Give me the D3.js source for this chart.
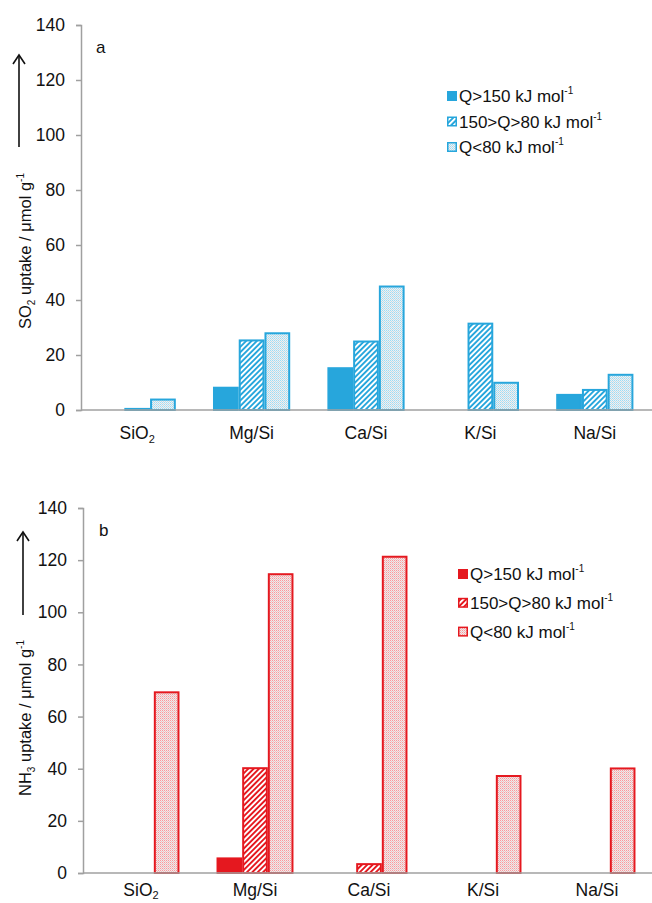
<!DOCTYPE html>
<html>
<head>
<meta charset="utf-8">
<script src="https://cdn.jsdelivr.net/npm/d3@7/dist/d3.min.js"></script>
<style>
  html, body { margin: 0; padding: 0; background: #fff; }
  svg { display: block; font-family: "Liberation Sans", Arial, sans-serif; }
</style>
</head>
<body>
<svg id="chart" width="652" height="903"></svg>
<script>
// ---- data ----
const categories = ["SiO2", "Mg/Si", "Ca/Si", "K/Si", "Na/Si"];
const seriesKeys = ["high", "mid", "low"];
const seriesLabels = ["Q>150 kJ mol", "150>Q>80 kJ mol", "Q<80 kJ mol"];
const so2High = [0, 8.1, 15.2, 0, 5.5];
const so2Mid  = [0.4, 25.3, 24.9, 31.4, 7.3];
const so2Low  = [3.8, 27.9, 44.9, 9.9, 12.8];
const nh3High = [0, 5.6, 0, 0, 0];
const nh3Mid  = [0, 40.2, 3.4, 0, 0];
const nh3Low  = [69.3, 114.6, 121.3, 37.2, 40.1];
const yTicks = [0, 20, 40, 60, 80, 100, 120, 140];
const yMax = 140;

const svg = d3.select("#chart");
const defs = svg.append("defs");

function makePatterns(id, color) {
  const h = defs.append("pattern")
    .attr("id", id + "-hatch")
    .attr("patternUnits", "userSpaceOnUse")
    .attr("width", 3.8).attr("height", 3.8)
    .attr("patternTransform", "rotate(45)");
  h.append("rect").attr("width", 3.8).attr("height", 3.8).attr("fill", "#fff");
  h.append("rect").attr("x", 0).attr("width", 1.9).attr("height", 3.8).attr("fill", color);

  const d = defs.append("pattern")
    .attr("id", id + "-dots")
    .attr("patternUnits", "userSpaceOnUse")
    .attr("width", 2).attr("height", 2);
  d.append("rect").attr("width", 2).attr("height", 2).attr("fill", "#fff");
  d.append("rect").attr("width", 2).attr("height", 2).attr("fill", color).attr("fill-opacity", 0.12);
  d.append("rect").attr("x", 0).attr("y", 0).attr("width", 1).attr("height", 1).attr("fill", color).attr("fill-opacity", 0.35);
  d.append("rect").attr("x", 1).attr("y", 1).attr("width", 1).attr("height", 1).attr("fill", "#999").attr("fill-opacity", 0.3);
}

function catLabel(sel, label, subDy) {
  const m = label.match(/^(.*\D)(\d)$/);
  if (m) {
    sel.append("tspan").text(m[1]);
    sel.append("tspan").attr("font-size", "11px").attr("dy", subDy).text(m[2]);
  } else {
    sel.text(label);
  }
}

function drawPanel(cfg) {
  const { id, color, values, x0, x1, y0, y1, axisX, letter, letterPos,
          gas, labelX, labelY, arrowX, arrowY0, arrowY1,
          legendX, legendY, legendStep } = cfg;
  makePatterns(id, color);
  const fills = { high: color, mid: `url(#${id}-hatch)`, low: `url(#${id}-dots)` };

  const x = d3.scaleBand().domain(categories).range([x0, x1])
    .paddingInner(0.325).paddingOuter(0.1625);
  const xs = d3.scaleBand().domain(seriesKeys).range([0, x.bandwidth()]);
  const y = d3.scaleLinear().domain([0, yMax]).range([y0, y1]);

  const g = svg.append("g");

  // bars
  seriesKeys.forEach((k, si) => {
    const vals = values[si];
    g.append("g").selectAll("rect")
      .data(categories.map((c, i) => ({ c, v: vals[i] })).filter(d => d.v > 0))
      .join("rect")
      .attr("x", d => x(d.c) + xs(k) + 1)
      .attr("width", xs.bandwidth() - 2)
      .attr("y", d => y(d.v))
      .attr("height", d => y(0) - y(d.v))
      .attr("fill", fills[k])
      .attr("stroke", color)
      .attr("stroke-width", 2);
  });

  // y axis
  const ya = g.append("g")
    .attr("transform", `translate(${axisX},0)`)
    .call(d3.axisLeft(y).tickValues(yTicks).tickSize(5).tickPadding(11));
  ya.select(".domain").attr("stroke", "#a0a0a0").attr("stroke-width", 1.5);
  ya.selectAll(".tick line").attr("stroke", "#a0a0a0").attr("stroke-width", 1.5);
  ya.selectAll(".tick text").attr("font-size", "17.5px").attr("fill", "#111")
    .attr("font-family", "Liberation Sans, Arial, sans-serif");

  // x axis
  const xa = g.append("g")
    .attr("transform", `translate(0,${y0})`)
    .call(d3.axisBottom(x).tickSize(0).tickPadding(0).tickFormat(""));
  xa.select(".domain").attr("stroke", "#a0a0a0").attr("stroke-width", 1.5)
    .attr("d", `M${axisX},0H${x1}`);
  xa.selectAll(".tick text").remove();
  xa.selectAll(".tick").append("text")
    .attr("y", cfg.catLabelDy)
    .attr("text-anchor", "middle")
    .attr("fill", "#111")
    .attr("font-size", "17.5px")
    .attr("font-family", "Liberation Sans, Arial, sans-serif")
    .each(function(d) { catLabel(d3.select(this), d, cfg.subDy); });

  // panel letter
  g.append("text").attr("x", letterPos[0]).attr("y", letterPos[1])
    .attr("font-size", "17px").attr("fill", "#111").text(letter);

  // y label
  const yl = g.append("text")
    .attr("transform", `translate(${labelX},${labelY}) rotate(-90)`)
    .attr("text-anchor", "middle")
    .attr("font-size", "16.5px").attr("fill", "#111");
  yl.append("tspan").text(gas[0]);
  yl.append("tspan").attr("font-size", "10px").attr("dy", 4).text(gas[1]);
  yl.append("tspan").attr("dy", -4).text(" uptake / \u03bcmol g");
  yl.append("tspan").attr("font-size", "10px").attr("dy", -7).text("-1");

  // arrow
  g.append("line").attr("x1", arrowX).attr("x2", arrowX)
    .attr("y1", arrowY0).attr("y2", arrowY1)
    .attr("stroke", "#111").attr("stroke-width", 1.6);
  g.append("path")
    .attr("d", `M${arrowX - 6},${arrowY1 + 9}L${arrowX},${arrowY1}L${arrowX + 6},${arrowY1 + 9}`)
    .attr("fill", "none").attr("stroke", "#111").attr("stroke-width", 1.6);

  // legend
  const lg = g.append("g");
  seriesKeys.forEach((k, i) => {
    const ly = legendY + i * legendStep;
    lg.append("rect").attr("x", legendX + 0.75).attr("y", ly - 4.25)
      .attr("width", 8.5).attr("height", 8.5)
      .attr("fill", fills[k]).attr("stroke", color).attr("stroke-width", 1.5);
    const t = lg.append("text").attr("x", legendX + 12).attr("y", ly + 6)
      .attr("font-size", "17px").attr("fill", "#111");
    t.append("tspan").text(seriesLabels[i]);
    t.append("tspan").attr("font-size", "10px").attr("dy", -8).text("-1");
  });
}

drawPanel({
  id: "so2", color: "#27a6dc",
  values: [so2High, so2Mid, so2Low],
  x0: 80, x1: 652, y0: 410, y1: 25, axisX: 81,
  catLabelDy: 29, subDy: 4,
  letter: "a", letterPos: [96, 53],
  gas: ["SO", "2"], labelX: 31, labelY: 251,
  arrowX: 19, arrowY0: 147, arrowY1: 55,
  legendX: 447, legendY: 96, legendStep: 25.5
});

drawPanel({
  id: "nh3", color: "#e5181f",
  values: [nh3High, nh3Mid, nh3Low],
  x0: 84, x1: 654, y0: 873, y1: 508, axisX: 83,
  catLabelDy: 23, subDy: 2.5,
  letter: "b", letterPos: [99, 536],
  gas: ["NH", "3"], labelX: 31, labelY: 718,
  arrowX: 23, arrowY0: 615, arrowY1: 532,
  legendX: 458, legendY: 574, legendStep: 28.8
});
</script>
</body>
</html>
